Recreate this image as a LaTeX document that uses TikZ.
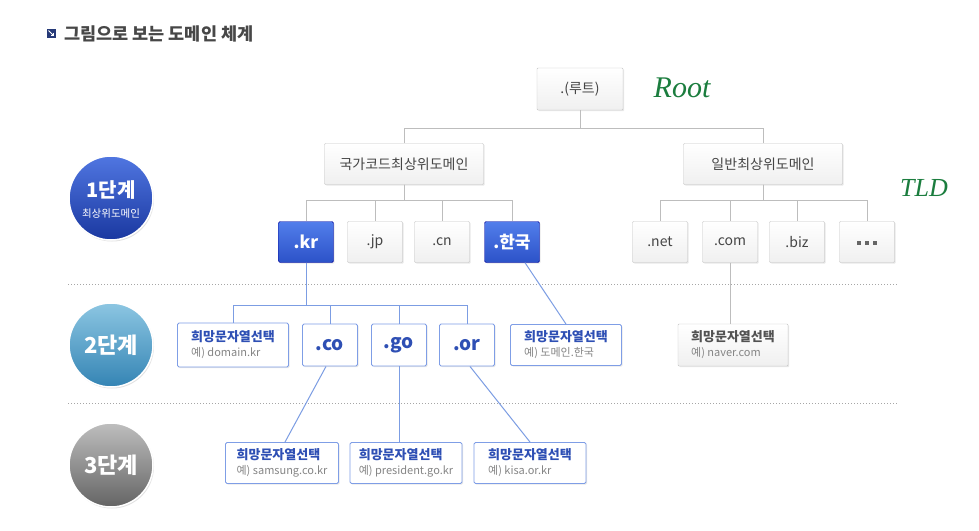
\documentclass[tikz,border=0pt]{standalone}
\usepackage{fontspec}
\setmainfont{Noto Sans CJK KR}
\newfontfamily\handfont{Liberation Serif}
\usetikzlibrary{shadows,calc}
\definecolor{gborder}{HTML}{C4C4C4}
\definecolor{gtext}{HTML}{454545}
\definecolor{gline}{HTML}{BDBDBD}
\definecolor{bline}{HTML}{7C9DE3}
\definecolor{bborder}{HTML}{7F9EE6}
\definecolor{btext}{HTML}{2E4FB4}
\definecolor{etext}{HTML}{858585}
\definecolor{handgreen}{HTML}{1B7D3E}
\tikzset{
  x=1pt,y=-1pt,
  shad/.style={drop shadow={shadow xshift=1.2pt,shadow yshift=-1.2pt,fill=black!18}},
  gbox/.style={draw=gborder,rounded corners=1pt,top color=white,bottom color=black!6,shad,minimum height=41pt,inner sep=0pt,
    text=gtext,font=\fontsize{14}{14}\selectfont},
  bbox/.style={draw=blue!60!black,rounded corners=1.5pt,top color={rgb,255:red,82;green,126;blue,235},bottom color={rgb,255:red,44;green,82;blue,200},
    shad,minimum width=55pt,minimum height=41pt,inner sep=0pt,text=white,font=\bfseries\fontsize{17}{17}\selectfont},
  wbox/.style={draw=bborder,line width=0.9pt,fill=white,rounded corners=1.5pt,shad,minimum height=42pt,inner sep=0pt,
    text=btext,font=\bfseries\fontsize{19}{19}\selectfont},
  hbox/.style={wbox,align=left,font=\fontsize{13}{15}\selectfont},
  gl/.style={draw=gline,line width=0.8pt},
  bl/.style={draw=bline,line width=1pt},
  stage/.style={circle,minimum size=84pt,inner sep=0pt,draw=white,line width=1.5pt,
    drop shadow={shadow xshift=1pt,shadow yshift=-1.5pt,fill=black!22}},
  stagetext/.style={text=white,inner sep=0pt,font=\bfseries\fontsize{22}{22}\selectfont},
  sqdot/.style={fill=black!60,minimum size=3.2pt,inner sep=0pt},
}
\newcommand{\hm}[1]{{\bfseries 희망문자열선택}\\{\fontsize{11}{12}\selectfont\color{etext}예) #1}}
\begin{document}
\begin{tikzpicture}
\useasboundingbox (0,0) rectangle (979,530);
\fill[white] (0,0) rectangle (979,530);
% title
\node[fill={rgb,255:red,38;green,58;blue,120},minimum size=9pt,inner sep=0pt] (icon) at (51,33) {};
\draw[white,line width=0.9pt] ($(icon.center)+(-2.5,-2.5)$) -- ($(icon.center)+(2.5,2.5)$);
\draw[white,line width=0.9pt] ($(icon.center)+(2.5,-0.5)$) -- ($(icon.center)+(2.5,2.5)$) -- ($(icon.center)+(-0.5,2.5)$);
\node[anchor=west,text=black!72,font=\bfseries\fontsize{17.5}{17.5}\selectfont,inner sep=0pt] (title) at (64,34) {그림으로 보는 도메인 체계};
% dotted separators
\draw[dotted,draw=black!35,line width=1pt] (68,284) coordinate (d1a) -- (897,284) coordinate (d1b);
\draw[dotted,draw=black!35,line width=1pt] (68,403) coordinate (d2a) -- (897,403) coordinate (d2b);
% stage circles
\node[stage,top color={rgb,255:red,80;green,118;blue,225},bottom color={rgb,255:red,26;green,56;blue,160}] (s1c) at (111,198) {};
\node[stagetext,font=\bfseries\fontsize{20}{20}\selectfont] (s1t) at (111,190) {1단계};
\node[stagetext,font=\fontsize{10.5}{11}\selectfont] (s1s) at (111,214) {최상위도메인};
\node[stage,top color={rgb,255:red,140;green,198;blue,226},bottom color={rgb,255:red,52;green,132;blue,180}] (s2c) at (111,345) {};
\node[stagetext] (s2t) at (111,345) {2단계};
\node[stage,top color={rgb,255:red,190;green,190;blue,190},bottom color={rgb,255:red,100;green,100;blue,100}] (s3c) at (111,465) {};
\node[stagetext] (s3t) at (111,465) {3단계};
% level 0/1 boxes
\node[gbox,minimum width=86pt,minimum height=42pt] (root) at (580,89) {.(루트)};
\node[gbox,minimum width=159pt] (kuk) at (404,164) {국가코드최상위도메인};
\node[gbox,minimum width=159pt] (il) at (763,164) {일반최상위도메인};
\node[bbox] (kr) at (306,242) {.kr};
\node[gbox,minimum width=55pt] (jp) at (375,242) {.jp};
\node[gbox,minimum width=55pt] (cn) at (442,242) {.cn};
\node[bbox] (han) at (512,242) {.한국};
\node[gbox,minimum width=55pt] (net) at (660,242) {.net};
\node[gbox,minimum width=55pt] (com) at (730,242) {.com};
\node[gbox,minimum width=55pt] (biz) at (797,242) {.biz};
\node[gbox,minimum width=55pt] (dots) at (867,242) {};
\foreach \dx [count=\i] in {-8,0,8} \node[sqdot] (dot\i) at ($(dots.center)+(\dx,1)$) {};
% level 2
\node[hbox,minimum width=111pt,minimum height=44pt] (hm1) at (233,345) {\hm{domain.kr}};
\node[wbox,minimum width=55pt] (co) at (330,345) {.co};
\node[wbox,minimum width=55pt] (go) at (399,345) {.go};
\node[wbox,minimum width=55pt] (or) at (467,345) {.or};
\node[hbox,minimum width=111pt,minimum height=41pt] (hm2) at (566,345) {\hm{도메인.한국}};
\node[gbox,minimum width=110pt,minimum height=42pt,align=left,font=\fontsize{13}{15}\selectfont,text=black!68] (hm3) at (733,345)
  {{\bfseries 희망문자열선택}\\{\fontsize{11}{12}\selectfont\color{etext}예) naver.com}};
% level 3
\node[hbox,minimum width=113pt,minimum height=41pt] (t1) at (282,463) {\hm{samsung.co.kr}};
\node[hbox,minimum width=112pt,minimum height=41pt] (t2) at (406,463) {\hm{president.go.kr}};
\node[hbox,minimum width=112pt,minimum height=41pt] (t3) at (530,463) {\hm{kisa.or.kr}};
% handwritten notes
\node[text=handgreen,font=\handfont\itshape\fontsize{30}{30}\selectfont] (rootnote) at (682,88) {Root};
\node[text=handgreen,font=\handfont\itshape\fontsize{26}{26}\selectfont] (tldnote) at (924,188) {TLD};
% connectors level 1
\draw[gl] (root.south) -- ++(0,18) -| (kuk.north);
\draw[gl] (root.south) -- ++(0,18) -| (il.north);
\foreach \c in {kr,jp,cn,han} \draw[gl] (kuk.south) -- ++(0,16) -| (\c.north);
\foreach \c in {net,com,biz,dots} \draw[gl] (il.south) -- ++(0,16) -| (\c.north);
\draw[gl] (com.south) -- (com.south |- hm3.north);
% level 2 connectors
\foreach \c in {hm1,co,go,or} \draw[bl] (kr.south) -- ++(0,43) -| (\c.north);
\draw[bl] ($(han.south)+(13,0)$) -- (hm2.north);
% level 3 connectors
\draw[bl] ($(co.south)+(-4,0)$) -- ($(t1.north)+(3,0)$);
\draw[bl] (go.south) -- (go.south |- t2.north);
\draw[bl] ($(or.south)+(3,0)$) -- (t3.north);
\end{tikzpicture}
\end{document}
